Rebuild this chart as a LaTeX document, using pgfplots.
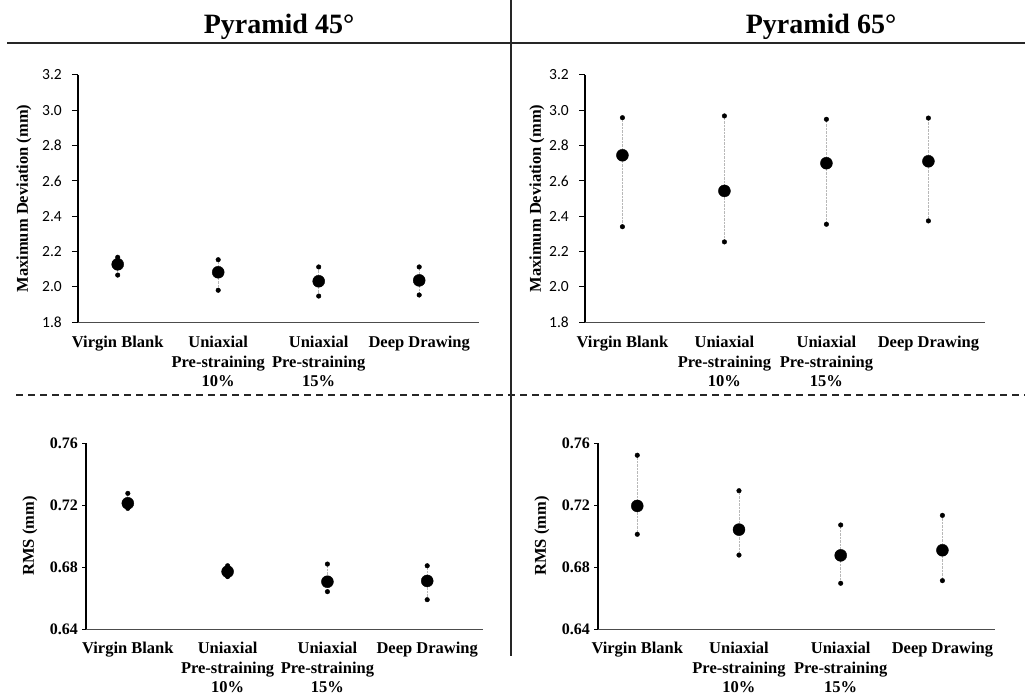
\documentclass[border=0pt]{standalone}
\usepackage{pgfplots}
\pgfplotsset{compat=1.18}
\usepackage{pgfplotstable}
\usepackage{fontspec}
\setmainfont{Liberation Serif}
\newfontfamily\carlito{Carlito}

\pgfplotstableread{
x m lo hi
0 2.127 2.066 2.167
1 2.082 1.980 2.153
2 2.031 1.947 2.112
3 2.036 1.953 2.112
}\TL
\pgfplotstableread{
x m lo hi
0 2.745 2.340 2.958
1 2.543 2.254 2.968
2 2.700 2.354 2.949
3 2.711 2.373 2.956
}\TR
\pgfplotstableread{
x m lo hi
0 0.7213 0.7180 0.7277
1 0.6772 0.6740 0.6810
2 0.6707 0.6643 0.6821
3 0.6712 0.6591 0.6810
}\BL
\pgfplotstableread{
x m lo hi
0 0.7196 0.7013 0.7523
1 0.7043 0.6879 0.7294
2 0.6877 0.6697 0.7073
3 0.6910 0.6714 0.7135
}\BR

\newcommand\catfont{\bfseries\fontsize{16.5}{19.5}\selectfont}

\pgfplotsset{
  panel/.style={
    scale only axis, anchor=south west, clip=false,
    axis x line*=bottom, axis y line*=left,
    x axis line style={-, draw=black!70, line width=0.9pt},
    y axis line style={-, draw=black, line width=1.3pt},
    xtick={0,1,2,3},
    xticklabels={Virgin Blank, Uniaxial\\Pre-straining\\10\%, Uniaxial\\Pre-straining\\15\%, Deep Drawing},
    major x tick style={draw=none},
    xticklabel style={font=\catfont, align=center, inner sep=0pt, anchor=north},
    tick align=outside,
    y tick style={draw=black, line width=1pt},
    yticklabel style={inner sep=0pt},
    /pgf/number format/assume math mode=true,
  },
  toppanel/.style={
    panel, height=247pt, ymin=1.8, ymax=3.2,
    ytick={1.8,2.0,2.2,2.4,2.6,2.8,3.0,3.2},
    yticklabel style={font=\carlito\fontsize{15.5}{18}\selectfont, xshift=-10pt,
      /pgf/number format/.cd, fixed, fixed zerofill, precision=1},
    xticklabel style={yshift=-8pt},
    major tick length=6pt,
  },
  botpanel/.style={
    panel, height=186pt, ymin=0.64, ymax=0.76,
    ytick={0.64,0.68,0.72,0.76},
    yticklabel style={font=\bfseries\fontsize{16}{18}\selectfont, xshift=-4pt,
      /pgf/number format/.cd, fixed, fixed zerofill, precision=2},
    xticklabel style={yshift=-9pt},
    major tick length=4pt,
  },
  whisk/.style={draw=none, mark=none, forget plot,
    error bars/.cd, y dir=both, y explicit, error mark=none,
    error bar style={draw=black!28, densely dotted, line width=0.8pt}},
  small/.style={only marks, mark=*, mark size=2.3pt, black},
  big/.style={only marks, mark=*, mark size=6pt, black},
}

\begin{document}
\begin{tikzpicture}[x=1pt,y=1pt]
\useasboundingbox (0,0) rectangle (1025,697);

% dividers
\draw[line width=1.6pt, black!85] (7,654) -- (1025,654);
\draw[line width=1.8pt, black!85] (511,697) -- (511,41);
\draw[line width=1.8pt, black!85, dash pattern=on 7pt off 5pt] (16,302) -- (1025,302);

\node[font=\bfseries\fontsize{28}{30}\selectfont, anchor=base] at (279,663) {Pyramid 45°};
\node[font=\bfseries\fontsize{28}{30}\selectfont, anchor=base] at (821,663) {Pyramid 65°};

% y axis titles
\node[font=\catfont, rotate=90, anchor=center] at (24,498.5) {Maximum Deviation (mm)};
\node[font=\catfont, rotate=90, anchor=center] at (537,498.5) {Maximum Deviation (mm)};
\node[font=\catfont, rotate=90, anchor=center] at (30,161) {RMS (mm)};
\node[font=\catfont, rotate=90, anchor=center] at (542,161) {RMS (mm)};

% top-left
\begin{axis}[toppanel, at={(78pt,375pt)}, width=401pt, xmin=-0.395, xmax=3.595]
\addplot[whisk] table[x=x, y=m, y error plus expr=\thisrow{hi}-\thisrow{m}, y error minus expr=\thisrow{m}-\thisrow{lo}] {\TL};
\addplot[small] table[x=x, y=lo] {\TL};
\addplot[small] table[x=x, y=hi] {\TL};
\addplot[big] table[x=x, y=m] {\TL};
\end{axis}

% top-right
\begin{axis}[toppanel, at={(585pt,375pt)}, width=400pt, xmin=-0.367, xmax=3.555]
\addplot[whisk] table[x=x, y=m, y error plus expr=\thisrow{hi}-\thisrow{m}, y error minus expr=\thisrow{m}-\thisrow{lo}] {\TR};
\addplot[small] table[x=x, y=lo] {\TR};
\addplot[small] table[x=x, y=hi] {\TR};
\addplot[big] table[x=x, y=m] {\TR};
\end{axis}

% bottom-left
\begin{axis}[botpanel, at={(86pt,67.7pt)}, width=397pt, xmin=-0.419, xmax=3.559]
\addplot[whisk] table[x=x, y=m, y error plus expr=\thisrow{hi}-\thisrow{m}, y error minus expr=\thisrow{m}-\thisrow{lo}] {\BL};
\addplot[small] table[x=x, y=lo] {\BL};
\addplot[small] table[x=x, y=hi] {\BL};
\addplot[big] table[x=x, y=m] {\BL};
\end{axis}

% bottom-right
\begin{axis}[botpanel, at={(598pt,67.7pt)}, width=397pt, xmin=-0.386, xmax=3.517]
\addplot[whisk] table[x=x, y=m, y error plus expr=\thisrow{hi}-\thisrow{m}, y error minus expr=\thisrow{m}-\thisrow{lo}] {\BR};
\addplot[small] table[x=x, y=lo] {\BR};
\addplot[small] table[x=x, y=hi] {\BR};
\addplot[big] table[x=x, y=m] {\BR};
\end{axis}
\end{tikzpicture}
\end{document}
